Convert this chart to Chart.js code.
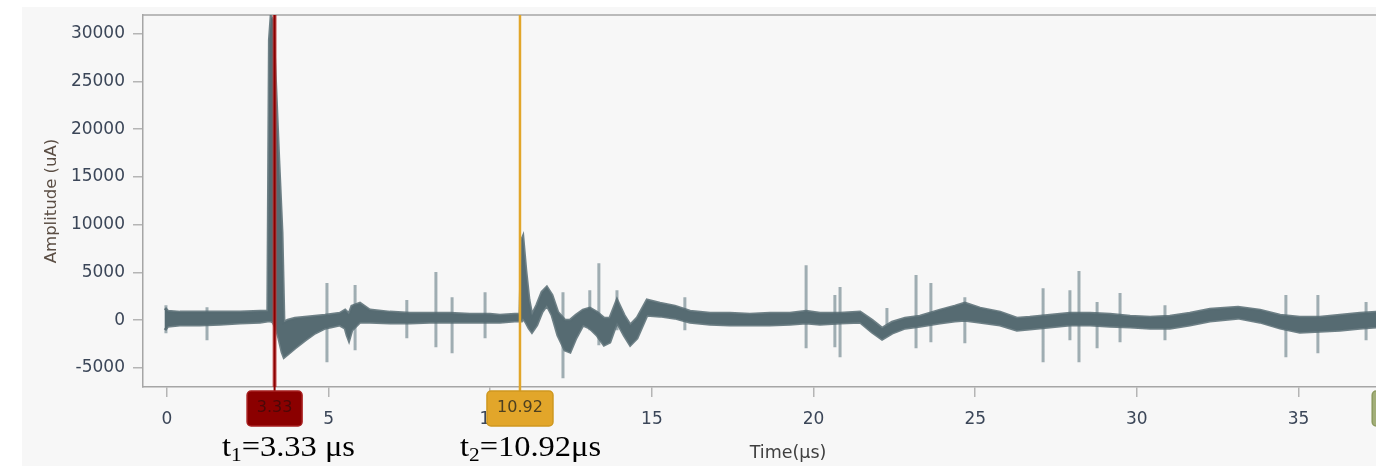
<!DOCTYPE html>
<html>
<head>
<meta charset="utf-8">
<script src="https://cdn.jsdelivr.net/npm/chart.js@4.4.0/dist/chart.umd.min.js"></script>
<style>
  html, body { margin:0; padding:0; background:#fff; overflow:hidden; width:1376px; height:468px; }
  #pannello { position:absolute; left:22px; top:7px; width:1418px; height:459px; background:#f7f7f7; }
  .nota { position:absolute; font-family:"Liberation Serif", "Times New Roman", serif; font-size:29px; color:#000;
          white-space:nowrap; transform:scaleX(1.12); transform-origin:left top; line-height:1; }
  .nota sub { font-size:19px; vertical-align:-5px; line-height:0; }
</style>
</head>
<body>
<div id="pannello"><canvas id="grafico"></canvas></div>
<div class="nota" style="left:222px; top:432px">t<sub>1</sub>=3.33 μs</div>
<div class="nota" style="left:460px; top:432px">t<sub>2</sub>=10.92μs</div>

<script>
// fascia principale delle forme d'onda sovrapposte (tempo in µs, ampiezza in uA)
var tempi_banda = [-0.06, 0.03, 0.40, 1.02, 1.64, 2.26, 2.88, 3.12, 3.17, 3.22, 3.28, 3.37, 3.46, 3.56, 3.62, 3.74,
  3.96, 4.27, 4.58, 4.89, 5.35, 5.51, 5.57, 5.63, 5.72, 5.97, 6.28, 6.90, 7.52, 8.13, 8.75, 9.37, 9.99, 10.30, 10.76,
  10.92, 10.97, 11.01, 11.10, 11.20, 11.29, 11.44, 11.60, 11.75, 11.91, 12.09, 12.31, 12.47, 12.65, 12.87, 13.08,
  13.30, 13.52, 13.70, 13.92, 14.14, 14.33, 14.54, 14.85, 15.25, 15.71, 16.18, 16.80, 17.41, 18.03, 18.65, 19.27,
  19.77, 20.20, 20.82, 21.44, 21.81, 22.12, 22.43, 22.83, 23.29, 23.91, 24.37, 24.68, 25.15, 25.77, 26.29, 26.69,
  27.31, 27.93, 28.55, 29.17, 29.79, 30.41, 31.02, 31.64, 32.26, 33.13, 33.81, 34.43, 35.04, 35.66, 36.28, 36.90, 37.40];
var banda_max = [1260, 940, 840, 840, 840, 840, 940, 940, 29340, 31750, 31440, 24100, 16770, 9120, -210, 0,
  210, 310, 420, 520, 730, 1050, 840, 630, 1470, 1780, 1050, 840, 730, 730, 730, 630, 630, 520, 630,
  630, 8380, 8700, 5240, 2100, 520, 1570, 2930, 3460, 2620, 840, 0, 0, 520, 1050, 1260,
  840, 210, 210, 2100, 520, -520, 210, 2100, 1780, 1470, 940, 730, 730, 630, 730, 730,
  940, 730, 730, 840, 0, -840, -210, 210, 420, 1050, 1470, 1780, 1260, 840, 210, 310,
  520, 730, 730, 630, 420, 310, 420, 730, 1150, 1360, 1050, 520, 310, 310, 520, 730, 840];
var banda_min = [-1050, -630, -520, -520, -420, -310, -210, -100, -100, -100, -210, -840, -1890, -3350, -3880, -3560,
  -2930, -2100, -1360, -840, -520, -840, -1570, -2100, -1050, -210, -210, -310, -310, -210, -210, -210, -210, -210, -100,
  -100, -100, 210, -210, -840, -1260, -520, 840, 1570, 520, -1570, -3140, -3350, -1890, -520, -840,
  -1570, -2620, -2310, -210, -1570, -2620, -1890, 520, 420, 210, -210, -420, -520, -520, -520, -420,
  -310, -420, -310, -210, -1260, -1990, -1360, -840, -630, -310, -100, 0, -210, -520, -1050, -940,
  -730, -520, -520, -630, -730, -840, -840, -520, -100, 210, -210, -840, -1260, -1150, -1050, -840, -730];

// picchi di disturbo isolati
var tempi_picchi = [-0.03, 1.24, 4.95, 5.82, 7.42, 8.32, 8.82, 9.84, 12.25, 13.08, 13.36, 13.92, 16.02, 19.77, 20.66,
  20.82, 22.27, 23.17, 23.63, 24.68, 27.10, 27.93, 28.21, 28.77, 29.48, 30.87, 34.61, 35.60, 37.09];
var picchi_max = [1570, 1360, 3880, 3670, 2100, 5030, 2410, 2930, 2930, 3140, 5970, 3140, 2410, 5760, 2620,
  3460, 1260, 4720, 3880, 2410, 3350, 3140, 5140, 1890, 2830, 1570, 2620, 2620, 1890];
var picchi_min = [-1360, -2100, -4400, -3140, -1890, -2830, -3460, -1890, -6080, -1050, -2620, -1050, -1050, -2930, -2830,
  -3880, -520, -2930, -2310, -2410, -4400, -2100, -4400, -2930, -2310, -2100, -3880, -3460, -2100];

var tick_x = [0, 5, 10, 15, 20, 25, 30, 35];
var tick_y = [-5000, 0, 5000, 10000, 15000, 20000, 25000, 30000];

// cursori temporali
var cursori = [3.33, 10.92, 38.3];
var etichette_cursori = ['3.33', '10.92', ''];
var colori_cursori = ['#8b0000', '#e2a62a', '#a2ae78'];

var colore_traccia = '#566b72';
var colore_testo = '#3b4658';

function prepara_banda(valori) {
  var punti = [];
  for (var i = 0; i < tempi_banda.length; i++) {
    punti.push({x: tempi_banda[i], y: valori[i]});
  }
  return punti;
}

function prepara_picchi() {
  var punti = [];
  for (var i = 0; i < tempi_picchi.length; i++) {
    punti.push({x: tempi_picchi[i], y: picchi_max[i]});
    punti.push({x: tempi_picchi[i], y: picchi_min[i]});
    punti.push({x: tempi_picchi[i], y: null});
  }
  return punti;
}

// bordo superiore dell'area del grafico
var bordo_superiore = {
  id: 'bordo_superiore',
  beforeDatasetsDraw: function(chart) {
    var ctx = chart.ctx, area = chart.chartArea;
    ctx.save();
    ctx.strokeStyle = '#a6a6a6';
    ctx.lineWidth = 1.5;
    ctx.beginPath();
    ctx.moveTo(area.left, area.top);
    ctx.lineTo(area.right, area.top);
    ctx.stroke();
    ctx.restore();
  }
};

// linee verticali dei cursori con la loro etichetta sotto l'asse
var disegna_cursori = {
  id: 'disegna_cursori',
  afterDraw: function(chart) {
    var ctx = chart.ctx, area = chart.chartArea;
    var scala_x = chart.scales.x;
    ctx.save();
    for (var i = 0; i < cursori.length; i++) {
      var px = scala_x.getPixelForValue(cursori[i]);
      if (px >= area.left && px <= area.right) {
        if (i == 0) {
          ctx.strokeStyle = 'rgba(190,60,60,0.8)';
          ctx.lineWidth = 4;
          ctx.beginPath(); ctx.moveTo(px, area.top); ctx.lineTo(px, area.bottom); ctx.stroke();
        }
        ctx.strokeStyle = colori_cursori[i];
        ctx.lineWidth = i == 0 ? 2 : 2.5;
        ctx.beginPath(); ctx.moveTo(px, area.top); ctx.lineTo(px, area.bottom + 4); ctx.stroke();
      }
      var larghezza = i == 0 ? 55 : 66;
      ctx.fillStyle = colori_cursori[i];
      ctx.strokeStyle = i == 0 ? '#a82020' : (i == 1 ? '#cf9820' : '#8c9a60');
      ctx.lineWidth = 1.5;
      ctx.beginPath();
      ctx.roundRect(px - larghezza / 2, area.bottom + 4, larghezza, 35, 4);
      ctx.fill();
      ctx.stroke();
      if (etichette_cursori[i] != '') {
        ctx.fillStyle = i == 0 ? '#4a0808' : '#4d4020';
        ctx.font = '16px "DejaVu Sans"';
        ctx.textAlign = 'center';
        ctx.textBaseline = 'middle';
        ctx.fillText(etichette_cursori[i], px, area.bottom + 21);
      }
    }
    ctx.restore();
  }
};

var grafico = new Chart(document.getElementById('grafico'), {
  type: 'line',
  data: {
    datasets: [{
      data: prepara_banda(banda_max),
      borderColor: 'rgba(86,107,114,0.85)',
      backgroundColor: colore_traccia,
      borderWidth: 3,
      pointRadius: 0,
      fill: '+1'
    }, {
      data: prepara_banda(banda_min),
      borderColor: 'rgba(86,107,114,0.85)',
      backgroundColor: colore_traccia,
      borderWidth: 3,
      pointRadius: 0,
      fill: false
    }, {
      data: prepara_picchi(),
      borderColor: 'rgba(100,124,132,0.6)',
      borderWidth: 3,
      pointRadius: 0,
      spanGaps: false,
      fill: false
    }]
  },
  options: {
    responsive: true,
    maintainAspectRatio: false,
    animation: false,
    layout: { padding: { top: 8, right: 7, left: 0, bottom: 0 } },
    plugins: { legend: { display: false }, tooltip: { enabled: false } },
    scales: {
      x: {
        type: 'linear',
        min: -0.74,
        max: 39.16,
        afterBuildTicks: function(scala) {
          scala.ticks = tick_x.map(function(v) { return {value: v}; });
        },
        afterFit: function(scala) {
          scala.height = 79;
          scala.paddingLeft = 0;
          scala.paddingRight = 0;
        },
        grid: { drawOnChartArea: false, drawTicks: true, tickLength: 10, color: '#b5b5b5', lineWidth: 1.5 },
        border: { color: '#a6a6a6', width: 1.5 },
        ticks: { padding: 12, maxRotation: 0, color: colore_testo, font: { family: 'DejaVu Sans', size: 17 },
                 callback: function(v) { return String(v); } },
        title: { display: true, text: 'Time(μs)', color: '#3f3f3f', padding: { top: 0, bottom: 2 },
                 font: { family: 'DejaVu Sans', size: 17.5 } }
      },
      y: {
        min: -7000,
        max: 31950,
        afterBuildTicks: function(scala) {
          scala.ticks = tick_y.map(function(v) { return {value: v}; });
        },
        afterFit: function(scala) {
          scala.width = 121;
          scala.paddingTop = 0;
          scala.paddingBottom = 0;
        },
        grid: { drawOnChartArea: false, drawTicks: true, tickLength: 10, color: '#b5b5b5', lineWidth: 1.5 },
        border: { color: '#a6a6a6', width: 1.5 },
        ticks: { padding: 8, color: colore_testo, font: { family: 'DejaVu Sans', size: 17 },
                 callback: function(v) { return String(v); } },
        title: { display: true, text: 'Amplitude (uA)', color: '#5b4e44', padding: { top: 20, bottom: 0 },
                 font: { family: 'DejaVu Sans', size: 16.5 } }
      }
    }
  },
  plugins: [bordo_superiore, disegna_cursori]
});
</script>
</body>
</html>
